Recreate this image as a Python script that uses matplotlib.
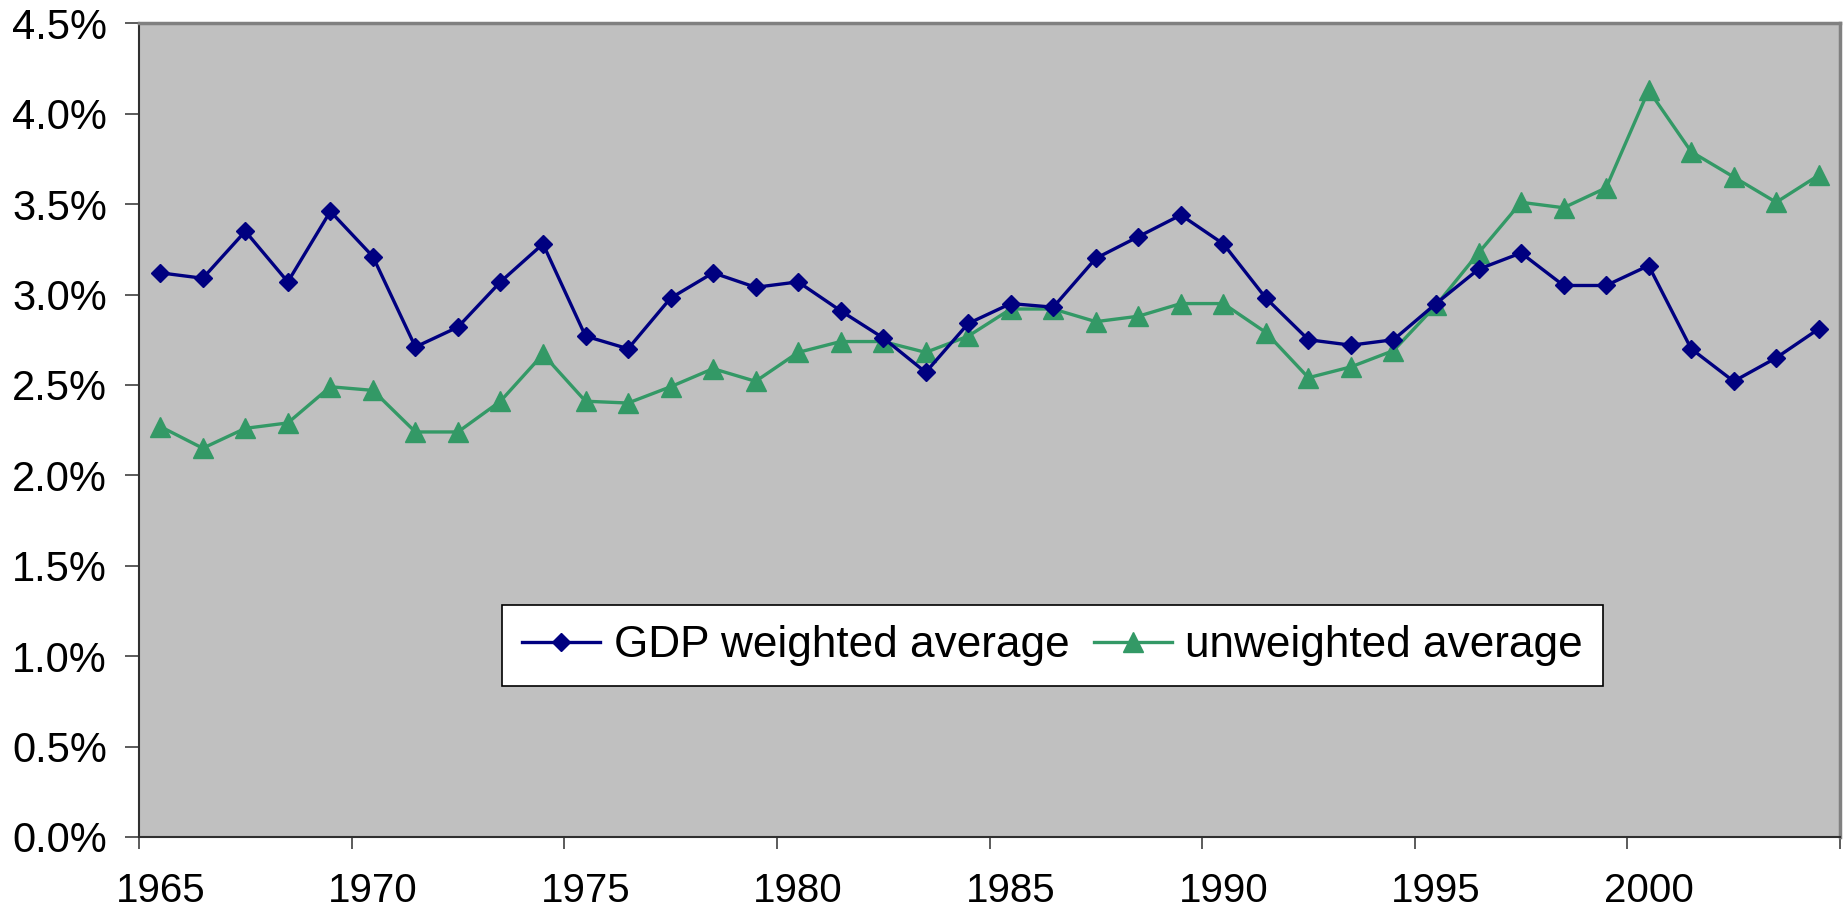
import matplotlib
matplotlib.use("Agg")
import matplotlib.pyplot as plt
from matplotlib.ticker import FuncFormatter, FixedLocator

years = list(range(1965, 2005))
gdp_weighted = [3.12, 3.09, 3.35, 3.07, 3.46, 3.21, 2.71, 2.82, 3.07, 3.28,
                2.77, 2.70, 2.98, 3.12, 3.04, 3.07, 2.91, 2.76, 2.57, 2.84,
                2.95, 2.93, 3.20, 3.32, 3.44, 3.28, 2.98, 2.75, 2.72, 2.75,
                2.95, 3.14, 3.23, 3.05, 3.05, 3.16, 2.70, 2.52, 2.65, 2.81]
unweighted = [2.27, 2.15, 2.26, 2.29, 2.49, 2.47, 2.24, 2.24, 2.41, 2.67,
              2.41, 2.40, 2.49, 2.59, 2.52, 2.68, 2.74, 2.74, 2.68, 2.77,
              2.92, 2.92, 2.85, 2.88, 2.95, 2.95, 2.79, 2.54, 2.60, 2.69,
              2.94, 3.23, 3.51, 3.48, 3.59, 4.13, 3.79, 3.65, 3.51, 3.66]
tick_years = list(range(1965, 2006, 5))
label_years = list(range(1965, 2001, 5))
series_names = ["GDP weighted average", "unweighted average"]

plt.rcParams['font.family'] = ['Liberation Sans', 'DejaVu Sans']

W, H, DPI = 1846, 916, 100
fig = plt.figure(figsize=(W / DPI, H / DPI), dpi=DPI)
left, right = 139 / W, 1840 / W
bottom, top = (H - 837) / H, (H - 23.3) / H
ax = fig.add_axes([left, bottom, right - left, top - bottom])
ax.set_facecolor('#C0C0C0')

xs = [y + 0.5 for y in years]
ax.plot(xs, gdp_weighted, color='#000080', lw=2.4, marker='D', ms=9.6,
        markeredgecolor='#000080', markerfacecolor='#000080',
        label=series_names[0], zorder=3)
ax.plot(xs, unweighted, color='#339966', lw=2.4, marker='^', ms=14.5,
        markeredgecolor='#339966', markerfacecolor='#339966',
        label=series_names[1], zorder=2)

ax.set_xlim(1965, 2005)
ax.set_ylim(0, 4.5)

# y axis
ax.set_yticks([i * 0.5 for i in range(10)])
ax.yaxis.set_major_formatter(FuncFormatter(lambda v, p: f"{v:.1f}%"))
ax.tick_params(axis='y', direction='out', length=10, width=1.2, pad=13,
               labelsize=30, color='#404040')

# x axis: ticks at category boundaries, labels centered on categories
ax.xaxis.set_major_locator(FixedLocator(tick_years))
ax.xaxis.set_minor_locator(FixedLocator([y + 0.5 for y in label_years]))
ax.set_xticklabels([''] * len(tick_years))
ax.set_xticklabels([str(y) for y in label_years], minor=True)
ax.tick_params(axis='x', which='major', direction='out', length=8.6, width=1.2,
               color='#404040')
ax.tick_params(axis='x', which='minor', length=0, pad=25, labelsize=29)

for s in ['left', 'bottom']:
    ax.spines[s].set_color('#303030')
    ax.spines[s].set_linewidth(1.5)
for s in ['top', 'right']:
    ax.spines[s].set_color('#808080')
    ax.spines[s].set_linewidth(2.5)

leg = ax.legend(loc='center', bbox_to_anchor=(0.537, 0.235), ncol=2,
                fontsize=31.8, frameon=True, fancybox=False, shadow=False,
                handlelength=1.78, handletextpad=0.3, columnspacing=0.55,
                borderpad=0.45, borderaxespad=0)
frame = leg.get_frame()
frame.set_facecolor('white')
frame.set_edgecolor('black')
frame.set_linewidth(1.2)
frame.set_alpha(1)

fig.savefig('out.png', dpi=DPI)
